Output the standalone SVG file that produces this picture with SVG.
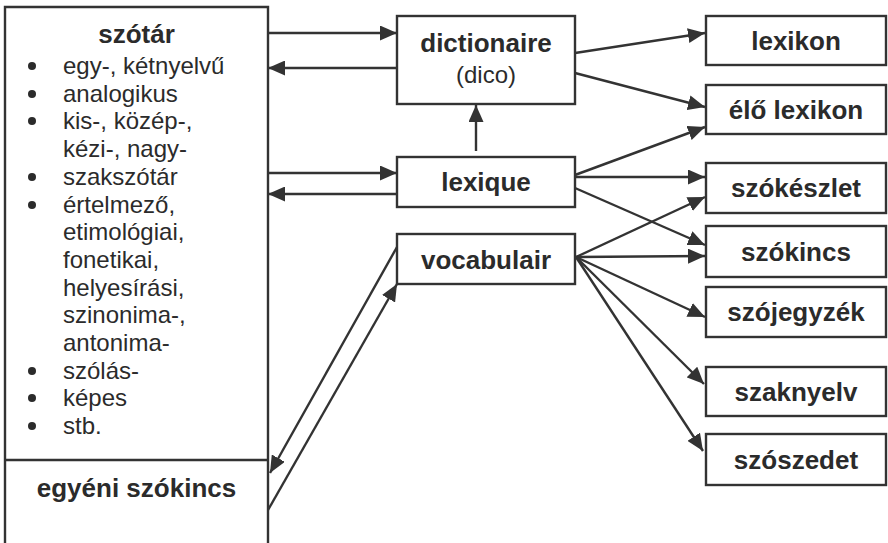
<svg xmlns="http://www.w3.org/2000/svg" width="888" height="543" viewBox="0 0 888 543">
  <style>
    .box { fill: #ffffff; stroke: #333333; stroke-width: 2.4; }
    .edge { fill: none; stroke: #333333; stroke-width: 2.4; }
    .t { font-family: "Liberation Sans", Arial, sans-serif; fill: #2b2b2b; }
    .b { font-weight: bold; font-size: 26px; }
    .r { font-size: 24px; }
    .mid { text-anchor: middle; }
  </style>
  <defs>
    <marker id="arrow" markerUnits="userSpaceOnUse" markerWidth="17" markerHeight="15" refX="17" refY="7.5" orient="auto">
      <path d="M0,0 L17,7.5 L0,15 z" fill="#333333"/>
    </marker>
  </defs>
  <rect width="888" height="543" fill="#ffffff"/>

  <!-- left column: szótár and egyéni szókincs (open at the bottom) -->
  <g id="szotar">
    <path class="edge" d="M5,543 L5,7 L268,7 L268,543"/>
    <text class="t b mid" x="136.5" y="43">szótár</text>
    <g class="t r">
      <circle cx="32" cy="66" r="4" fill="#2b2b2b"/>
      <text x="63" y="74">egy-, kétnyelvű</text>
      <circle cx="32" cy="94" r="4" fill="#2b2b2b"/>
      <text x="63" y="101.7">analogikus</text>
      <circle cx="32" cy="121" r="4" fill="#2b2b2b"/>
      <text x="63" y="129.4">kis-, közép-,</text>
      <text x="63" y="157">kézi-, nagy-</text>
      <circle cx="32" cy="177" r="4" fill="#2b2b2b"/>
      <text x="63" y="184.8">szakszótár</text>
      <circle cx="32" cy="205" r="4" fill="#2b2b2b"/>
      <text x="63" y="212.5">értelmező,</text>
      <text x="63" y="240.2">etimológiai,</text>
      <text x="63" y="268">fonetikai,</text>
      <text x="63" y="295.6">helyesírási,</text>
      <text x="63" y="323.3">szinonima-,</text>
      <text x="63" y="351">antonima-</text>
      <circle cx="32" cy="371" r="4" fill="#2b2b2b"/>
      <text x="63" y="378.7">szólás-</text>
      <circle cx="32" cy="398" r="4" fill="#2b2b2b"/>
      <text x="63" y="406.4">képes</text>
      <circle cx="32" cy="426" r="4" fill="#2b2b2b"/>
      <text x="63" y="434">stb.</text>
    </g>
  </g>
  <g id="egyeni-szokincs">
    <line class="edge" x1="5" y1="460" x2="268" y2="460"/>
    <text class="t b mid" x="136.5" y="497">egyéni szókincs</text>
  </g>

  <!-- middle column -->
  <g id="dictionaire">
    <rect class="box" x="397" y="16" width="178" height="88"/>
    <text class="t b mid" x="486" y="52">dictionaire</text>
    <text class="t r mid" x="486" y="83">(dico)</text>
  </g>
  <g id="lexique">
    <rect class="box" x="397" y="157" width="178" height="50"/>
    <text class="t b mid" x="486" y="191">lexique</text>
  </g>
  <g id="vocabulair">
    <rect class="box" x="397" y="234" width="178" height="50"/>
    <text class="t b mid" x="486" y="268.5">vocabulair</text>
  </g>

  <!-- right column -->
  <g id="lexikon">
    <rect class="box" x="706" y="16" width="180" height="49"/>
    <text class="t b mid" x="796" y="50">lexikon</text>
  </g>
  <g id="elo-lexikon">
    <rect class="box" x="706" y="85" width="180" height="49"/>
    <text class="t b mid" x="796" y="119">élő lexikon</text>
  </g>
  <g id="szokeszlet">
    <rect class="box" x="706" y="163" width="180" height="50"/>
    <text class="t b mid" x="796" y="197">szókészlet</text>
  </g>
  <g id="szokincs">
    <rect class="box" x="706" y="226" width="180" height="51"/>
    <text class="t b mid" x="796" y="260.5">szókincs</text>
  </g>
  <g id="szojegyzek">
    <rect class="box" x="706" y="287" width="180" height="50"/>
    <text class="t b mid" x="796" y="321">szójegyzék</text>
  </g>
  <g id="szaknyelv">
    <rect class="box" x="706" y="367" width="180" height="49"/>
    <text class="t b mid" x="796" y="401">szaknyelv</text>
  </g>
  <g id="szoszedet">
    <rect class="box" x="706" y="434" width="180" height="51"/>
    <text class="t b mid" x="796" y="468.5">szószedet</text>
  </g>

  <!-- connectors -->
  <g id="connectors" class="edge" marker-end="url(#arrow)">
    <line x1="268" y1="33" x2="397" y2="33"/>
    <line x1="397" y1="68" x2="268" y2="68"/>
    <line x1="268" y1="173" x2="397" y2="173"/>
    <line x1="397" y1="194" x2="268" y2="194"/>
    <line x1="476" y1="151" x2="476" y2="105"/>
    <line x1="397" y1="247" x2="270" y2="473"/>
    <line x1="268" y1="510" x2="397" y2="284"/>
    <line x1="575" y1="53" x2="705" y2="33"/>
    <line x1="575" y1="73" x2="705" y2="107"/>
    <line x1="575" y1="175" x2="705" y2="127"/>
    <line x1="575" y1="177" x2="705" y2="177"/>
    <line x1="575" y1="188" x2="705" y2="245"/>
    <line x1="576" y1="257" x2="705" y2="197"/>
    <line x1="576" y1="257" x2="705" y2="256"/>
    <line x1="576" y1="257" x2="705" y2="317"/>
    <line x1="576" y1="257" x2="704" y2="384"/>
    <line x1="576" y1="257" x2="703" y2="451"/>
  </g>
</svg>
